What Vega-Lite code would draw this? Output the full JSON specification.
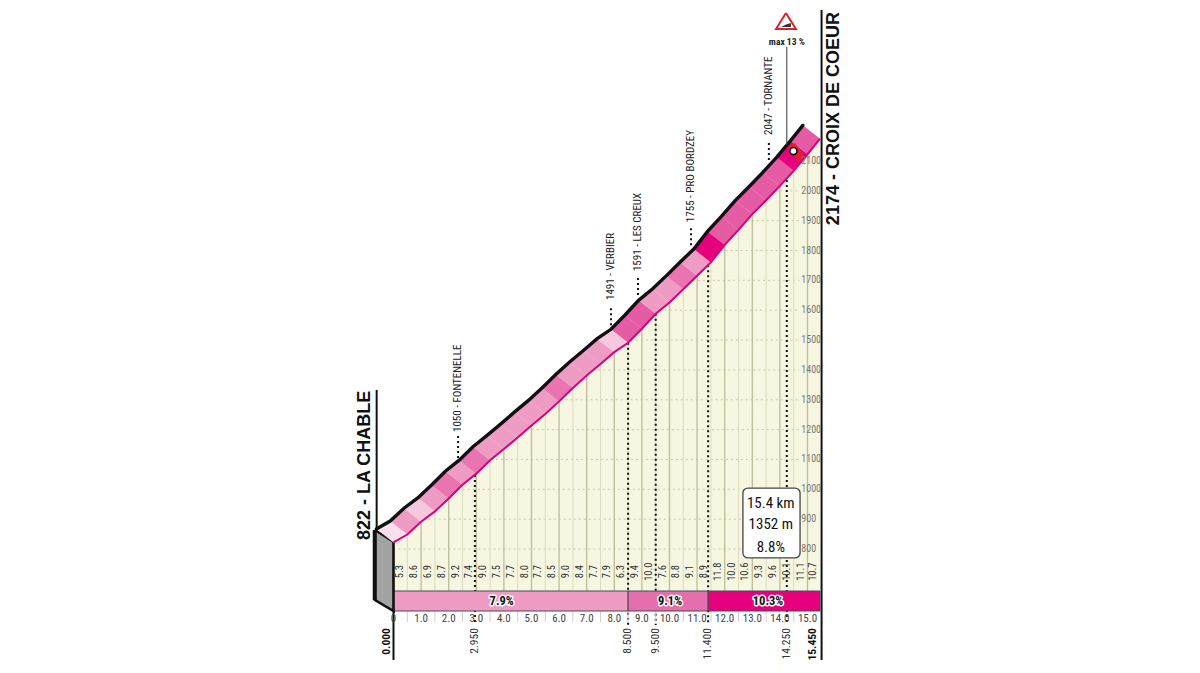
{
"$schema":"https://vega.github.io/schema/vega-lite/v6.json",
"width":1200,"height":673,"padding":0,
"autosize":{"type":"fit","contains":"padding"},
"background":"white",
"config":{"view":{"stroke":null}},
"datasets":{
"profile":[
{"km":0,"e":822,"tk":-0.62,"te":867,"major":1},
{"km":0.5,"e":848.5,"tk":-0.12,"te":893.5,"major":0},
{"km":1,"e":891.5,"tk":0.38,"te":936.5,"major":1},
{"km":1.5,"e":926,"tk":0.88,"te":971,"major":0},
{"km":2,"e":969.5,"tk":1.38,"te":1014.5,"major":1},
{"km":2.5,"e":1015.5,"tk":1.88,"te":1060.5,"major":0},
{"km":3,"e":1052.5,"tk":2.38,"te":1097.5,"major":1},
{"km":3.5,"e":1097.5,"tk":2.88,"te":1142.5,"major":0},
{"km":4,"e":1135,"tk":3.38,"te":1180,"major":1},
{"km":4.5,"e":1173.5,"tk":3.88,"te":1218.5,"major":0},
{"km":5,"e":1213.5,"tk":4.38,"te":1258.5,"major":1},
{"km":5.5,"e":1252,"tk":4.88,"te":1297,"major":0},
{"km":6,"e":1294.5,"tk":5.38,"te":1339.5,"major":1},
{"km":6.5,"e":1339.5,"tk":5.88,"te":1384.5,"major":0},
{"km":7,"e":1381.5,"tk":6.38,"te":1426.5,"major":1},
{"km":7.5,"e":1420,"tk":6.88,"te":1465,"major":0},
{"km":8,"e":1459.5,"tk":7.38,"te":1504.5,"major":1},
{"km":8.5,"e":1491,"tk":7.88,"te":1536,"major":0},
{"km":9,"e":1538,"tk":8.38,"te":1583,"major":1},
{"km":9.5,"e":1588,"tk":8.88,"te":1633,"major":0},
{"km":10,"e":1626,"tk":9.38,"te":1671,"major":1},
{"km":10.5,"e":1670,"tk":9.88,"te":1715,"major":0},
{"km":11,"e":1715.5,"tk":10.38,"te":1760.5,"major":1},
{"km":11.5,"e":1760,"tk":10.88,"te":1805,"major":0},
{"km":12,"e":1819,"tk":11.38,"te":1864,"major":1},
{"km":12.5,"e":1869,"tk":11.88,"te":1914,"major":0},
{"km":13,"e":1922,"tk":12.38,"te":1967,"major":1},
{"km":13.5,"e":1968.5,"tk":12.88,"te":2013.5,"major":0},
{"km":14,"e":2016.5,"tk":13.38,"te":2061.5,"major":1},
{"km":14.5,"e":2067,"tk":13.88,"te":2112,"major":0},
{"km":15,"e":2122.5,"tk":14.38,"te":2167.5,"major":1},
{"km":15.45,"e":2174,"tk":14.83,"te":2219,"major":2}
],
"polys":[
{"s":0,"o":0,"km":0,"e":822,"g":5.3},{"s":0,"o":1,"km":0.5,"e":848.5,"g":5.3},{"s":0,"o":2,"km":-0.12,"e":893.5,"g":5.3},{"s":0,"o":3,"km":-0.62,"e":867,"g":5.3},
{"s":1,"o":0,"km":0.5,"e":848.5,"g":8.6},{"s":1,"o":1,"km":1,"e":891.5,"g":8.6},{"s":1,"o":2,"km":0.38,"e":936.5,"g":8.6},{"s":1,"o":3,"km":-0.12,"e":893.5,"g":8.6},
{"s":2,"o":0,"km":1,"e":891.5,"g":6.9},{"s":2,"o":1,"km":1.5,"e":926,"g":6.9},{"s":2,"o":2,"km":0.88,"e":971,"g":6.9},{"s":2,"o":3,"km":0.38,"e":936.5,"g":6.9},
{"s":3,"o":0,"km":1.5,"e":926,"g":8.7},{"s":3,"o":1,"km":2,"e":969.5,"g":8.7},{"s":3,"o":2,"km":1.38,"e":1014.5,"g":8.7},{"s":3,"o":3,"km":0.88,"e":971,"g":8.7},
{"s":4,"o":0,"km":2,"e":969.5,"g":9.2},{"s":4,"o":1,"km":2.5,"e":1015.5,"g":9.2},{"s":4,"o":2,"km":1.88,"e":1060.5,"g":9.2},{"s":4,"o":3,"km":1.38,"e":1014.5,"g":9.2},
{"s":5,"o":0,"km":2.5,"e":1015.5,"g":7.4},{"s":5,"o":1,"km":3,"e":1052.5,"g":7.4},{"s":5,"o":2,"km":2.38,"e":1097.5,"g":7.4},{"s":5,"o":3,"km":1.88,"e":1060.5,"g":7.4},
{"s":6,"o":0,"km":3,"e":1052.5,"g":9.0},{"s":6,"o":1,"km":3.5,"e":1097.5,"g":9.0},{"s":6,"o":2,"km":2.88,"e":1142.5,"g":9.0},{"s":6,"o":3,"km":2.38,"e":1097.5,"g":9.0},
{"s":7,"o":0,"km":3.5,"e":1097.5,"g":7.5},{"s":7,"o":1,"km":4,"e":1135,"g":7.5},{"s":7,"o":2,"km":3.38,"e":1180,"g":7.5},{"s":7,"o":3,"km":2.88,"e":1142.5,"g":7.5},
{"s":8,"o":0,"km":4,"e":1135,"g":7.7},{"s":8,"o":1,"km":4.5,"e":1173.5,"g":7.7},{"s":8,"o":2,"km":3.88,"e":1218.5,"g":7.7},{"s":8,"o":3,"km":3.38,"e":1180,"g":7.7},
{"s":9,"o":0,"km":4.5,"e":1173.5,"g":8.0},{"s":9,"o":1,"km":5,"e":1213.5,"g":8.0},{"s":9,"o":2,"km":4.38,"e":1258.5,"g":8.0},{"s":9,"o":3,"km":3.88,"e":1218.5,"g":8.0},
{"s":10,"o":0,"km":5,"e":1213.5,"g":7.7},{"s":10,"o":1,"km":5.5,"e":1252,"g":7.7},{"s":10,"o":2,"km":4.88,"e":1297,"g":7.7},{"s":10,"o":3,"km":4.38,"e":1258.5,"g":7.7},
{"s":11,"o":0,"km":5.5,"e":1252,"g":8.5},{"s":11,"o":1,"km":6,"e":1294.5,"g":8.5},{"s":11,"o":2,"km":5.38,"e":1339.5,"g":8.5},{"s":11,"o":3,"km":4.88,"e":1297,"g":8.5},
{"s":12,"o":0,"km":6,"e":1294.5,"g":9.0},{"s":12,"o":1,"km":6.5,"e":1339.5,"g":9.0},{"s":12,"o":2,"km":5.88,"e":1384.5,"g":9.0},{"s":12,"o":3,"km":5.38,"e":1339.5,"g":9.0},
{"s":13,"o":0,"km":6.5,"e":1339.5,"g":8.4},{"s":13,"o":1,"km":7,"e":1381.5,"g":8.4},{"s":13,"o":2,"km":6.38,"e":1426.5,"g":8.4},{"s":13,"o":3,"km":5.88,"e":1384.5,"g":8.4},
{"s":14,"o":0,"km":7,"e":1381.5,"g":7.7},{"s":14,"o":1,"km":7.5,"e":1420,"g":7.7},{"s":14,"o":2,"km":6.88,"e":1465,"g":7.7},{"s":14,"o":3,"km":6.38,"e":1426.5,"g":7.7},
{"s":15,"o":0,"km":7.5,"e":1420,"g":7.9},{"s":15,"o":1,"km":8,"e":1459.5,"g":7.9},{"s":15,"o":2,"km":7.38,"e":1504.5,"g":7.9},{"s":15,"o":3,"km":6.88,"e":1465,"g":7.9},
{"s":16,"o":0,"km":8,"e":1459.5,"g":6.3},{"s":16,"o":1,"km":8.5,"e":1491,"g":6.3},{"s":16,"o":2,"km":7.88,"e":1536,"g":6.3},{"s":16,"o":3,"km":7.38,"e":1504.5,"g":6.3},
{"s":17,"o":0,"km":8.5,"e":1491,"g":9.4},{"s":17,"o":1,"km":9,"e":1538,"g":9.4},{"s":17,"o":2,"km":8.38,"e":1583,"g":9.4},{"s":17,"o":3,"km":7.88,"e":1536,"g":9.4},
{"s":18,"o":0,"km":9,"e":1538,"g":10.0},{"s":18,"o":1,"km":9.5,"e":1588,"g":10.0},{"s":18,"o":2,"km":8.88,"e":1633,"g":10.0},{"s":18,"o":3,"km":8.38,"e":1583,"g":10.0},
{"s":19,"o":0,"km":9.5,"e":1588,"g":7.6},{"s":19,"o":1,"km":10,"e":1626,"g":7.6},{"s":19,"o":2,"km":9.38,"e":1671,"g":7.6},{"s":19,"o":3,"km":8.88,"e":1633,"g":7.6},
{"s":20,"o":0,"km":10,"e":1626,"g":8.8},{"s":20,"o":1,"km":10.5,"e":1670,"g":8.8},{"s":20,"o":2,"km":9.88,"e":1715,"g":8.8},{"s":20,"o":3,"km":9.38,"e":1671,"g":8.8},
{"s":21,"o":0,"km":10.5,"e":1670,"g":9.1},{"s":21,"o":1,"km":11,"e":1715.5,"g":9.1},{"s":21,"o":2,"km":10.38,"e":1760.5,"g":9.1},{"s":21,"o":3,"km":9.88,"e":1715,"g":9.1},
{"s":22,"o":0,"km":11,"e":1715.5,"g":8.9},{"s":22,"o":1,"km":11.5,"e":1760,"g":8.9},{"s":22,"o":2,"km":10.88,"e":1805,"g":8.9},{"s":22,"o":3,"km":10.38,"e":1760.5,"g":8.9},
{"s":23,"o":0,"km":11.5,"e":1760,"g":11.8},{"s":23,"o":1,"km":12,"e":1819,"g":11.8},{"s":23,"o":2,"km":11.38,"e":1864,"g":11.8},{"s":23,"o":3,"km":10.88,"e":1805,"g":11.8},
{"s":24,"o":0,"km":12,"e":1819,"g":10.0},{"s":24,"o":1,"km":12.5,"e":1869,"g":10.0},{"s":24,"o":2,"km":11.88,"e":1914,"g":10.0},{"s":24,"o":3,"km":11.38,"e":1864,"g":10.0},
{"s":25,"o":0,"km":12.5,"e":1869,"g":10.6},{"s":25,"o":1,"km":13,"e":1922,"g":10.6},{"s":25,"o":2,"km":12.38,"e":1967,"g":10.6},{"s":25,"o":3,"km":11.88,"e":1914,"g":10.6},
{"s":26,"o":0,"km":13,"e":1922,"g":9.3},{"s":26,"o":1,"km":13.5,"e":1968.5,"g":9.3},{"s":26,"o":2,"km":12.88,"e":2013.5,"g":9.3},{"s":26,"o":3,"km":12.38,"e":1967,"g":9.3},
{"s":27,"o":0,"km":13.5,"e":1968.5,"g":9.6},{"s":27,"o":1,"km":14,"e":2016.5,"g":9.6},{"s":27,"o":2,"km":13.38,"e":2061.5,"g":9.6},{"s":27,"o":3,"km":12.88,"e":2013.5,"g":9.6},
{"s":28,"o":0,"km":14,"e":2016.5,"g":10.1},{"s":28,"o":1,"km":14.5,"e":2067,"g":10.1},{"s":28,"o":2,"km":13.88,"e":2112,"g":10.1},{"s":28,"o":3,"km":13.38,"e":2061.5,"g":10.1},
{"s":29,"o":0,"km":14.5,"e":2067,"g":11.1},{"s":29,"o":1,"km":15,"e":2122.5,"g":11.1},{"s":29,"o":2,"km":14.38,"e":2167.5,"g":11.1},{"s":29,"o":3,"km":13.88,"e":2112,"g":11.1},
{"s":30,"o":0,"km":15,"e":2122.5,"g":10.7},{"s":30,"o":1,"km":15.45,"e":2174,"g":10.7},{"s":30,"o":2,"km":14.83,"e":2219,"g":10.7},{"s":30,"o":3,"km":14.38,"e":2167.5,"g":10.7}
],
"grades":[
{"km":0.25,"e":724,"t":"5.3"},{"km":0.75,"e":724,"t":"8.6"},{"km":1.25,"e":724,"t":"6.9"},{"km":1.75,"e":724,"t":"8.7"},{"km":2.25,"e":724,"t":"9.2"},{"km":2.75,"e":724,"t":"7.4"},{"km":3.25,"e":724,"t":"9.0"},{"km":3.75,"e":724,"t":"7.5"},{"km":4.25,"e":724,"t":"7.7"},{"km":4.75,"e":724,"t":"8.0"},{"km":5.25,"e":724,"t":"7.7"},{"km":5.75,"e":724,"t":"8.5"},{"km":6.25,"e":724,"t":"9.0"},{"km":6.75,"e":724,"t":"8.4"},{"km":7.25,"e":724,"t":"7.7"},{"km":7.75,"e":724,"t":"7.9"},{"km":8.25,"e":724,"t":"6.3"},{"km":8.75,"e":724,"t":"9.4"},{"km":9.25,"e":724,"t":"10.0"},{"km":9.75,"e":724,"t":"7.6"},{"km":10.25,"e":724,"t":"8.8"},{"km":10.75,"e":724,"t":"9.1"},{"km":11.25,"e":724,"t":"8.9"},{"km":11.75,"e":724,"t":"11.8"},{"km":12.25,"e":724,"t":"10.0"},{"km":12.75,"e":724,"t":"10.6"},{"km":13.25,"e":724,"t":"9.3"},{"km":13.75,"e":724,"t":"9.6"},{"km":14.25,"e":724,"t":"10.1"},{"km":14.75,"e":724,"t":"11.1"},{"km":15.2,"e":724,"t":"10.7"}
]
},
"encoding":{
"x":{"field":"km","type":"quantitative","axis":null,"scale":{"domain":[-14.257,29.221],"nice":false,"zero":false}},
"y":{"field":"e","type":"quantitative","axis":null,"scale":{"domain":[384.6,2639.2],"nice":false,"zero":false}}
},
"layer":[
{"data":{"name":"profile"},"mark":{"type":"area","color":"#f6f6e1"},"encoding":{"y2":{"datum":659}}},
{"data":{"values":[
{"km":1.1,"km2":14.7,"e":900},{"km":2.33,"km2":14.7,"e":1000},{"km":3.53,"km2":14.7,"e":1100},{"km":4.83,"km2":14.7,"e":1200},{"km":6.06,"km2":14.7,"e":1300},{"km":7.24,"km2":14.7,"e":1400},{"km":8.6,"km2":14.7,"e":1500},{"km":9.65,"km2":14.7,"e":1600},{"km":10.85,"km2":14.7,"e":1700},{"km":11.85,"km2":14.7,"e":1800},{"km":12.8,"km2":14.7,"e":1900},{"km":13.83,"km2":14.7,"e":2000},{"km":0,"km2":14.7,"e":800}
]},"mark":{"type":"rule","color":"#c9c9a6","strokeWidth":1,"strokeDash":[2,3]},"encoding":{"x2":{"field":"km2"}}},
{"data":{"name":"profile"},"transform":[{"filter":"datum.major==0"}],"mark":{"type":"rule","color":"#dcdcc2","strokeWidth":1},"encoding":{"y2":{"datum":659}}},
{"data":{"name":"profile"},"transform":[{"filter":"datum.major==1"}],"mark":{"type":"rule","color":"#bdbd9c","strokeWidth":1.3},"encoding":{"y2":{"datum":659}}},
{"data":{"values":[
{"km":2.95,"e":1048,"e2":545},{"km":8.5,"e":1491,"e2":545},{"km":9.5,"e":1588,"e2":545},{"km":11.4,"e":1751,"e2":545},{"km":14.25,"e":2036,"e2":545},
{"km":2.34,"e":1105,"e2":1182},{"km":7.88,"e":1550,"e2":1617},{"km":8.86,"e":1651,"e2":1711},{"km":10.78,"e":1818,"e2":1879},{"km":13.6,"e":2103,"e2":2163}
]},"mark":{"type":"rule","color":"#111","strokeWidth":2,"strokeDash":[2,3]},"encoding":{"y2":{"field":"e2"}}},
{"data":{"values":[{"km":0.5,"e":592},{"km":1.5,"e":592},{"km":2.5,"e":592},{"km":3.5,"e":592},{"km":4.5,"e":592},{"km":5.5,"e":592},{"km":6.5,"e":592},{"km":7.5,"e":592},{"km":8.5,"e":592},{"km":9.5,"e":592},{"km":10.5,"e":592},{"km":11.5,"e":592},{"km":12.5,"e":592},{"km":13.5,"e":592},{"km":14.5,"e":592}]},"mark":{"type":"rule","color":"#cfcfcf","strokeWidth":1},"encoding":{"y2":{"datum":555}}},
{"data":{"values":[
{"km":0,"km2":8.5,"e":659.3,"e2":592.3,"c":"a"},{"km":8.5,"km2":11.4,"e":659.3,"e2":592.3,"c":"b"},{"km":11.4,"km2":15.45,"e":659.3,"e2":592.3,"c":"c"}
]},"mark":{"type":"rect","stroke":"#4a4a4a","strokeWidth":1},"encoding":{"x2":{"field":"km2"},"y2":{"field":"e2"},"fill":{"field":"c","type":"nominal","legend":null,"scale":{"domain":["a","b","c"],"range":["#ee9cc4","#e46eae","#e6007e"]}}}},
{"data":{"values":[
{"o":0,"km":-0.67,"e":863.7},{"o":1,"km":-0.67,"e":629},{"o":2,"km":0,"e":592.3},{"o":3,"km":0,"e":824.5},{"o":4,"km":-0.67,"e":863.7}
]},"mark":{"type":"line","fill":"#a3a3a3","stroke":"#111","strokeWidth":2.6},"encoding":{"order":{"field":"o"}}},
{"data":{"values":[{"km":-0.68,"e":863.7,"e2":629}]},"mark":{"type":"rule","color":"#111","strokeWidth":4},"encoding":{"y2":{"field":"e2"}}},
{"data":{"name":"polys"},"mark":{"type":"line","strokeWidth":0.4},"encoding":{"detail":{"field":"s"},"order":{"field":"o"},
"fill":{"field":"g","type":"quantitative","legend":null,"scale":{"type":"threshold","domain":[6,7,9,9.3,11],"range":["#f8dfec","#f6c8de","#ee9cc4","#e974b0","#e55ca4","#e6007e"]}},
"stroke":{"field":"g","type":"quantitative","legend":null,"scale":{"type":"threshold","domain":[6,7,9,9.3,11],"range":["#f8dfec","#f6c8de","#ee9cc4","#e974b0","#e55ca4","#e6007e"]}}}},
{"data":{"values":[{"o":0,"km":14.26,"e":2147},{"o":1,"km":14.55,"e":2160},{"o":2,"km":14.91,"e":2114},{"o":3,"km":14.66,"e":2097}]},"mark":{"type":"line","fill":"#e5202e","strokeWidth":0},"encoding":{"order":{"field":"o"}}},
{"data":{"name":"profile"},"mark":{"type":"line","color":"#d9007c","strokeWidth":2,"interpolate":"linear"}},
{"data":{"name":"profile"},"mark":{"type":"line","color":"#111","strokeWidth":3.4,"strokeCap":"round"},"encoding":{"x":{"field":"tk","type":"quantitative"},"y":{"field":"te","type":"quantitative"}}},
{"data":{"values":[
{"km":-0.61,"e":1333,"e2":870,"w":"a"},{"km":15.51,"e":2605.6,"e2":428,"w":"a"},{"km":0,"e":592,"e2":428,"w":"a"}
]},"mark":{"type":"rule","color":"#111","strokeWidth":2},"encoding":{"y2":{"field":"e2"}}},
{"data":{"values":[{"km":14.25,"e":2481.7,"e2":2153}]},"mark":{"type":"rule","color":"#333","strokeWidth":1},"encoding":{"y2":{"field":"e2"}}},
{"data":{"values":[{"km":14.49,"e":2133}]},"mark":{"type":"point","filled":true,"fill":"white","stroke":"#111","strokeWidth":1.6,"size":50,"opacity":1}},
{"data":{"values":[{"o":0,"km":14.22,"e":2595.6},{"o":1,"km":13.86,"e":2542},{"o":2,"km":14.58,"e":2542},{"o":3,"km":14.22,"e":2595.6}]},"mark":{"type":"line","fill":"white","stroke":"#d8232a","strokeWidth":2},"encoding":{"order":{"field":"o"}}},
{"data":{"values":[{"o":0,"km":14.04,"e":2549},{"o":1,"km":14.4,"e":2549},{"o":2,"km":14.4,"e":2562},{"o":3,"km":14.22,"e":2557}]},"mark":{"type":"line","fill":"#333","strokeWidth":0},"encoding":{"order":{"field":"o"}}},
{"data":{"values":[{"km":12.66,"km2":14.73,"e":1004,"e2":770}]},"mark":{"type":"rect","fill":"white","stroke":"#444","strokeWidth":1.3,"cornerRadius":5},"encoding":{"x2":{"field":"km2"},"y2":{"field":"e2"}}},
{"data":{"values":[{"km":13.67,"e":955,"t":"15.4 km"},{"km":13.67,"e":885,"t":"1352 m"},{"km":13.67,"e":808,"t":"8.8%"}]},"mark":{"type":"text","font":"Roboto Condensed, Lato","fontSize":15,"color":"#111"},"encoding":{"text":{"field":"t"}}},
{"data":{"name":"grades"},"mark":{"type":"text","angle":270,"font":"Roboto Condensed, Lato","fontSize":10.5,"color":"#333"},"encoding":{"text":{"field":"t"}}},
{"data":{"values":[
{"km":0,"e":565.5,"t":"0"},{"km":1,"e":565.5,"t":"1.0"},{"km":2,"e":565.5,"t":"2.0"},{"km":3,"e":565.5,"t":"3.0"},{"km":4,"e":565.5,"t":"4.0"},{"km":5,"e":565.5,"t":"5.0"},{"km":6,"e":565.5,"t":"6.0"},{"km":7,"e":565.5,"t":"7.0"},{"km":8,"e":565.5,"t":"8.0"},{"km":9,"e":565.5,"t":"9.0"},{"km":10,"e":565.5,"t":"10.0"},{"km":11,"e":565.5,"t":"11.0"},{"km":12,"e":565.5,"t":"12.0"},{"km":13,"e":565.5,"t":"13.0"},{"km":14,"e":565.5,"t":"14.0"},{"km":15,"e":565.5,"t":"15.0"}
]},"mark":{"type":"text","font":"Roboto Condensed, Lato","fontSize":11,"color":"#444"},"encoding":{"text":{"field":"t"}}},
{"data":{"values":[
{"km":2.95,"e":535,"t":"2.950"},{"km":8.5,"e":535,"t":"8.500"},{"km":9.5,"e":535,"t":"9.500"},{"km":11.4,"e":535,"t":"11.400"},{"km":14.25,"e":535,"t":"14.250"}
]},"mark":{"type":"text","angle":270,"align":"right","baseline":"middle","font":"Roboto Condensed, Lato","fontSize":11.5,"color":"#333"},"encoding":{"text":{"field":"t"}}},
{"data":{"values":[{"km":-0.23,"e":535,"t":"0.000"},{"km":15.2,"e":535,"t":"15.450"}]},"mark":{"type":"text","angle":270,"align":"right","baseline":"middle","font":"Roboto Condensed, Lato","fontSize":11.5,"fontWeight":"bold","color":"#111"},"encoding":{"text":{"field":"t"}}},
{"data":{"values":[
{"km":14.63,"e":800,"t":"800"},{"km":14.63,"e":900,"t":"900"},{"km":14.63,"e":1000,"t":"1000"},{"km":14.63,"e":1100,"t":"1100"},{"km":14.63,"e":1200,"t":"1200"},{"km":14.63,"e":1300,"t":"1300"},{"km":14.63,"e":1400,"t":"1400"},{"km":14.63,"e":1500,"t":"1500"},{"km":14.63,"e":1600,"t":"1600"},{"km":14.63,"e":1700,"t":"1700"},{"km":14.63,"e":1800,"t":"1800"},{"km":14.63,"e":1900,"t":"1900"},{"km":14.63,"e":2000,"t":"2000"},{"km":14.63,"e":2100,"t":"2100"}
]},"mark":{"type":"text","font":"Roboto Condensed, Lato","fontSize":10,"color":"#777","align":"left","dx":4},"encoding":{"text":{"field":"t"}}},
{"data":{"values":[{"km":3.92,"e":625,"t":"7.9%"},{"km":10.02,"e":625,"t":"9.1%"},{"km":13.57,"e":625,"t":"10.3%"}]},"mark":{"type":"text","font":"Roboto Condensed, Lato","fontSize":12.5,"fontWeight":"bold","color":"white","stroke":"white","strokeWidth":3,"strokeJoin":"round"},"encoding":{"text":{"field":"t"}}},
{"data":{"values":[{"km":3.92,"e":625,"t":"7.9%"},{"km":10.02,"e":625,"t":"9.1%"},{"km":13.57,"e":625,"t":"10.3%"}]},"mark":{"type":"text","font":"Roboto Condensed, Lato","fontSize":12.5,"fontWeight":"bold","color":"#111"},"encoding":{"text":{"field":"t"}}},
{"data":{"values":[
{"km":2.34,"e":1192,"t":"1050 - FONTENELLE"},{"km":7.88,"e":1634,"t":"1491 - VERBIER"},{"km":8.86,"e":1731,"t":"1591 - LES CREUX"},{"km":10.78,"e":1895,"t":"1755 - PRO BORDZEY"},{"km":13.6,"e":2187,"t":"2047 - TORNANTE"}
]},"mark":{"type":"text","angle":270,"align":"left","baseline":"middle","font":"Roboto Condensed, Lato","fontSize":11,"color":"#222"},"encoding":{"text":{"field":"t"}}},
{"data":{"values":[{"km":-1.04,"e":830,"t":"822 - LA CHABLE"},{"km":15.96,"e":1885,"t":"2174 - CROIX DE COEUR"}]},"mark":{"type":"text","angle":270,"align":"left","baseline":"middle","font":"Liberation Sans","fontSize":18,"fontWeight":"bold","color":"#111"},"encoding":{"text":{"field":"t"}}},
{"data":{"values":[{"km":14.25,"e":2500,"t":"max 13 %"}]},"mark":{"type":"text","font":"Roboto Condensed, Lato","fontSize":9.5,"fontWeight":"bold","color":"#222"},"encoding":{"text":{"field":"t"}}}
]
}
